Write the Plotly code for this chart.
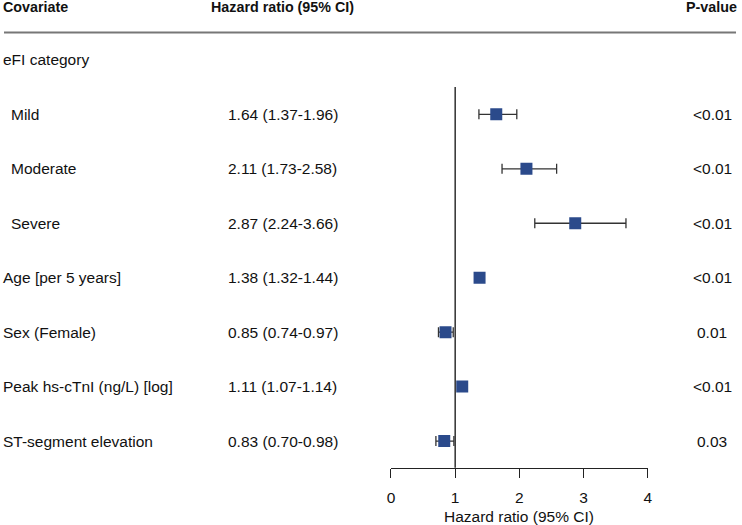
import plotly.graph_objects as go

# ---- data ----
covariates = ["Mild", "Moderate", "Severe", "Age [per 5 years]", "Sex (Female)",
              "Peak hs-cTnI (ng/L) [log]", "ST-segment elevation"]
indented = [True, True, True, False, False, False, False]
hr = [1.64, 2.11, 2.87, 1.38, 0.85, 1.11, 0.83]
ci_low = [1.37, 1.73, 2.24, 1.32, 0.74, 1.07, 0.70]
ci_high = [1.96, 2.58, 3.66, 1.44, 0.97, 1.14, 0.98]
p_values = ["<0.01", "<0.01", "<0.01", "<0.01", "0.01", "<0.01", "0.03"]
group_label = "eFI category"
x_ticks = [0, 1, 2, 3, 4]
headers = ["Covariate", "Hazard ratio (95% CI)", "P-value"]
x_title = "Hazard ratio (95% CI)"

W, H = 742, 525
FONT = "Liberation Sans, Arial, Helvetica, sans-serif"
BLUE = "#2B4A8B"
FS = 15.5
HFS = 14.3

rows = list(range(1, len(covariates) + 1))
ROW0_PX = 59.9      # pixel centre of the group label row
ROW_STEP = 54.45    # pixel distance between rows
LEFT_PX = -3
INDENT_PX = 5
HR_PX = 282
P_PX = 717


def py(px):
    return 1 - px / H


fig = go.Figure()
fig.add_trace(go.Scatter(
    x=hr, y=rows, mode="markers",
    marker=dict(symbol="square", size=12, color=BLUE, line=dict(width=0)),
    error_x=dict(type="data", symmetric=False,
                 array=[h - v for h, v in zip(ci_high, hr)],
                 arrayminus=[v - l for v, l in zip(hr, ci_low)],
                 color="#333333", thickness=1.3, width=5),
    showlegend=False, hoverinfo="skip",
))

ann = []
hy = py(7.5)
ann.append(dict(text="<b>%s</b>" % headers[0], x=LEFT_PX / W, xanchor="left", y=hy, yanchor="middle",
                xref="paper", yref="paper", showarrow=False, font=dict(size=HFS)))
ann.append(dict(text="<b>%s</b>" % headers[1], x=282 / W, xanchor="center", y=hy, yanchor="middle",
                xref="paper", yref="paper", showarrow=False, font=dict(size=HFS)))
ann.append(dict(text="<b>%s</b>" % headers[2], x=716 / W, xanchor="center", y=hy, yanchor="middle",
                xref="paper", yref="paper", showarrow=False, font=dict(size=HFS)))
ann.append(dict(text=group_label, x=LEFT_PX / W, xanchor="left", y=py(ROW0_PX), yanchor="middle",
                xref="paper", yref="paper", showarrow=False, font=dict(size=FS)))
for i, (c, ind, h, l, u, p) in enumerate(zip(covariates, indented, hr, ci_low, ci_high, p_values)):
    r = rows[i]
    ann.append(dict(text=c, x=(INDENT_PX if ind else LEFT_PX) / W, xanchor="left", y=r,
                    yanchor="middle", xref="paper", yref="y", showarrow=False, font=dict(size=FS)))
    ann.append(dict(text=f"{h:.2f} ({l:.2f}-{u:.2f})", x=HR_PX / W, xanchor="center", y=r,
                    yanchor="middle", xref="paper", yref="y", showarrow=False, font=dict(size=FS)))
    ann.append(dict(text=p, x=P_PX / W, xanchor="center", y=r, yanchor="middle",
                    xref="paper", yref="y", showarrow=False, font=dict(size=FS)))
ann.append(dict(text=x_title, x=0.5, xref="x domain", xanchor="center", y=py(516),
                yref="paper", yanchor="middle", showarrow=False, font=dict(size=FS)))

shapes = [
    dict(type="line", xref="paper", yref="paper", x0=0, x1=741 / W,
         y0=py(32.5), y1=py(32.5), line=dict(color="#777777", width=2)),
    dict(type="line", xref="x", yref="y domain", x0=1, x1=1, y0=0, y1=1,
         line=dict(color="#111111", width=1.3), layer="below"),
]

y_bottom = (467.7 - ROW0_PX) / ROW_STEP
y_top = (87 - ROW0_PX) / ROW_STEP

fig.update_layout(
    width=W, height=H,
    margin=dict(l=0, r=0, t=0, b=0),
    paper_bgcolor="white", plot_bgcolor="white",
    font=dict(family=FONT, color="#111111", size=FS),
    annotations=ann, shapes=shapes,
    xaxis=dict(domain=[391.7 / W, 651.7 / W], range=[0, 4], tickvals=x_ticks,
               showgrid=False, zeroline=False, showline=True, linecolor="#222222",
               linewidth=1.2, ticks="outside", ticklen=9, tickwidth=1.2, tickcolor="#222222",
               tickfont=dict(size=FS), ticklabelstandoff=7),
    yaxis=dict(domain=[py(467.7), py(87)], range=[y_bottom, y_top],
               showgrid=False, zeroline=False, showline=False, showticklabels=False, ticks=""),
)

fig.write_html("out.html", config={"displayModeBar": False},
               post_script="document.body.style.margin='0';document.body.style.overflow='hidden';")
